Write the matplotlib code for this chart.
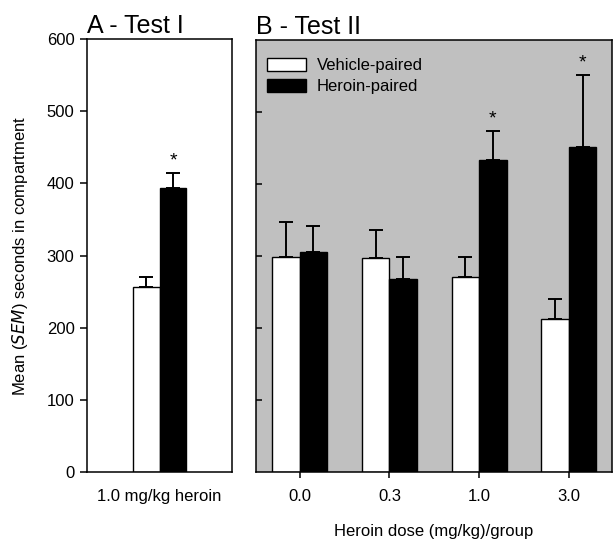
import matplotlib
matplotlib.use("Agg")
import matplotlib.pyplot as plt
from matplotlib.patches import Patch

# Test I (single dose)
test1_label = ["1.0 mg/kg heroin"]
test1_vehicle = [257]
test1_vehicle_sem = [13]
test1_heroin = [393]
test1_heroin_sem = [21]

# Test II (dose groups)
doses = ["0.0", "0.3", "1.0", "3.0"]
vehicle = [298, 297, 271, 212]
vehicle_sem = [49, 39, 28, 28]
heroin = [305, 268, 434, 452]
heroin_sem = [36, 30, 39, 99]

# which heroin bars get a star
test1_star = [True]
test2_star = [False, False, True, True]


def bars(ax, x, w, vals, sems, color):
    ax.bar(x, vals, w, color=color, edgecolor="black", linewidth=1.0, zorder=2)
    ax.errorbar(x, vals, yerr=[[0] * len(vals), sems], fmt="none", ecolor="black",
                elinewidth=1.4, capsize=5, capthick=1.4, zorder=3)


def stars(ax, x, vals, sems, flags):
    for xi, v, s, f in zip(x, vals, sems, flags):
        if f:
            ax.annotate("*", xy=(xi, v + s), xytext=(0, 3), textcoords="offset points",
                        ha="center", va="bottom", fontsize=14)


def main():
    plt.rcParams["font.family"] = ["Liberation Sans", "DejaVu Sans"]
    plt.rcParams["font.size"] = 12

    fig = plt.figure(figsize=(6.14, 5.40), dpi=100)
    axA = fig.add_axes([0.1417, 0.1259, 0.2362, 0.8019])
    axB = fig.add_axes([0.4164, 0.1259, 0.5803, 0.8000])

    # --- panel A ---
    w = 0.186
    xa = list(range(len(test1_label)))
    bars(axA, [i - w / 2 for i in xa], w, test1_vehicle, test1_vehicle_sem, "white")
    bars(axA, [i + w / 2 for i in xa], w, test1_heroin, test1_heroin_sem, "black")
    stars(axA, [i + w / 2 for i in xa], test1_heroin, test1_heroin_sem, test1_star)
    axA.set_xlim(-0.5, 0.5)
    axA.set_ylim(0, 600)
    axA.set_xticks(xa)
    axA.set_xticklabels(test1_label)
    axA.tick_params(axis="x", length=0, pad=12, labelsize=12)
    axA.tick_params(axis="y", direction="out", length=5, width=1.1, pad=4, labelsize=12)
    axA.set_ylabel("Mean ($\\it{SEM}$) seconds in compartment", fontsize=12, labelpad=12)
    axA.set_title("A - Test I", loc="left", fontsize=18, pad=4)
    for s in axA.spines.values():
        s.set_linewidth(1.1)

    # --- panel B ---
    wb = 0.307
    xb = list(range(len(doses)))
    axB.set_facecolor("#c0c0c0")
    bars(axB, [i - wb / 2 for i in xb], wb, vehicle, vehicle_sem, "white")
    bars(axB, [i + wb / 2 for i in xb], wb, heroin, heroin_sem, "black")
    stars(axB, [i + wb / 2 for i in xb], heroin, heroin_sem, test2_star)
    axB.set_xlim(-0.49, 3.48)
    axB.set_ylim(0, 600)
    axB.set_xticks(xb)
    axB.set_xticklabels(doses)
    axB.set_yticks([100, 200, 300, 400, 500])
    axB.set_yticklabels([])
    axB.tick_params(axis="x", direction="out", length=4.5, width=1.1, pad=8, labelsize=12)
    axB.tick_params(axis="y", direction="in", length=4.5, width=1.1)
    axB.set_xlabel("Heroin dose (mg/kg)/group", fontsize=12, labelpad=14)
    axB.set_title("B - Test II", loc="left", fontsize=18, pad=4)
    for s in axB.spines.values():
        s.set_linewidth(1.1)

    handles = [Patch(facecolor="white", edgecolor="black", label="Vehicle-paired"),
               Patch(facecolor="black", edgecolor="black", label="Heroin-paired")]
    axB.legend(handles=handles, loc="upper left", bbox_to_anchor=(0.0, 0.985),
               frameon=False, fontsize=12, handlelength=2.3, handleheight=0.8,
               handletextpad=0.65, labelspacing=0.35, borderaxespad=0.3)

    fig.savefig("out.png", dpi=100)


if __name__ == "__main__":
    main()
